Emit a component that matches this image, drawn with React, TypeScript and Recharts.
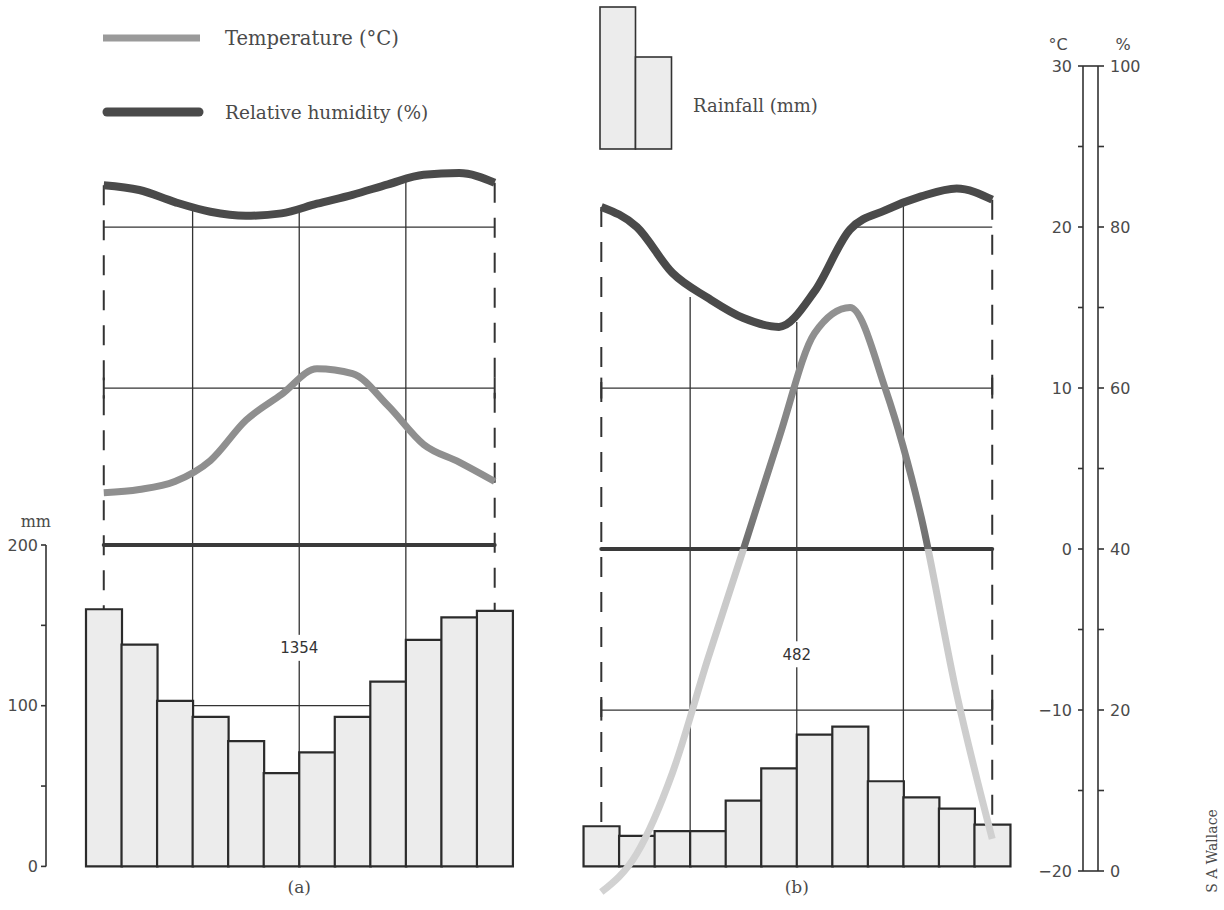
import React from 'react';
import { ComposedChart, Bar, Line, XAxis, YAxis, ReferenceLine, ReferenceDot, Legend } from 'recharts';

// ---------------- data ----------------
// panel (a)
const rainA = [160, 138, 103, 93, 78, 58, 71, 93, 115, 141, 155, 159];
const humA = [85.2, 84.6, 83.1, 81.9, 81.4, 81.7, 82.9, 84.0, 85.3, 86.5, 86.7, 85.5];
const tempA = [3.5, 3.7, 4.2, 5.5, 8.0, 9.6, 11.2, 10.9, 8.9, 6.5, 5.4, 4.2];
// panel (b)
const rainB = [25, 19, 22, 22, 41, 61, 82, 87, 53, 43, 36, 26];
const humB = [82.5, 80.0, 74.3, 71.2, 68.7, 67.6, 72.0, 79.7, 82.1, 83.8, 84.8, 83.4];
const tempB = [-21.3, -18.9, -13.9, -6.8, 0.0, 6.9, 13.4, 15.0, 9.9, 2.0, -9.0, -18.0];

const totals = ['1354', '482'];
const panelNames = ['(a)', '(b)'];
const quarterEnds = [3, 6, 9];
const gridTopsA = [82.1, 81.9, 85.8]; // humidity (%) where the quarter lines start
const gridTopsB = [71.3, 68.2, 82.7];

const tempTicks = [-20, -15, -10, -5, 0, 5, 10, 15, 20, 25, 30];
const humTicks = [0, 10, 20, 30, 40, 50, 60, 70, 80, 90, 100];
const rainTicks = [0, 50, 100, 150, 200];

// ---------------- layout / scales ----------------
const W = 1224;
const H = 910;
const N = 12;
const GAP = 2;
const OFF_B = N + GAP;
const SLOTS = N * 2 + GAP;

// all axes of the main chart share one pixel range; lower bounds leave room below -20 °C
const TEMP_DOMAIN: [number, number] = [-22.1, 30];
const HUM_DOMAIN: [number, number] = [-4.2, 100];
const RAIN_DOMAIN: [number, number] = [-24, 498];
const conv = (v: number, from: number[], to: number[]) =>
  to[0] + ((v - from[0]) / (from[1] - from[0])) * (to[1] - to[0]);
const humToRain = (h: number) => conv(h, HUM_DOMAIN, RAIN_DOMAIN);

const rows = [
  ...rainA.map((r, i) => ({ key: `a${i + 1}`, pos: i + 0.5, rain: r, humA: humA[i], tempA: tempA[i] })),
  ...Array.from({ length: GAP }, (_, i) => ({ key: `gap${i + 1}`, pos: N + i + 0.5 })),
  ...rainB.map((r, i) => ({ key: `b${i + 1}`, pos: OFF_B + i + 0.5, rain: r, humB: humB[i], tempB: tempB[i] })),
];

const tMax = Math.max(...tempB);
const tMin = Math.min(...tempB);
const zeroOff = tMax / (tMax - tMin);

const INK = '#333';
const TEXT = '#4a4a4a';
const HUM_COLOR = '#4a4a4a';
const TEMP_COLOR = '#8f8f8f';
const BAR_FILL = '#ececec';
const SERIF = 'DejaVu Serif';
const SANS = 'DejaVu Sans';
const DASH = '20 15';

const LegendArt = () => (
  <svg width={900} height={160} style={{ display: 'block' }}>
    <line x1={103} x2={200} y1={38} y2={38} stroke="#9a9a9a" strokeWidth={7} />
    <text x={225} y={45} fontFamily={SERIF} fontSize={19.5} fill={TEXT}>Temperature (°C)</text>
    <line x1={107} x2={199} y1={112} y2={112} stroke={HUM_COLOR} strokeWidth={9} strokeLinecap="round" />
    <text x={225} y={119} fontFamily={SERIF} fontSize={18.5} fill={TEXT}>Relative humidity (%)</text>
    <rect x={600} y={7} width={35.5} height={142} fill={BAR_FILL} stroke={INK} strokeWidth={1.6} />
    <rect x={635.5} y={57} width={36} height={92} fill={BAR_FILL} stroke={INK} strokeWidth={1.6} />
    <text x={693} y={112} fontFamily={SERIF} fontSize={18} fill={TEXT}>Rainfall (mm)</text>
  </svg>
);

const TotalTag = (props: any) => (
  <g>
    <rect x={props.cx - 22} y={props.cy - 13} width={44} height={26} fill="#fff" />
    <text x={props.cx} y={props.cy} dy="0.36em" textAnchor="middle" fontFamily={SANS} fontSize={15} fill={INK}>
      {props.text}
    </text>
  </g>
);

const thin = { stroke: INK, strokeWidth: 1.3 };

function panelRefs(off: number, hum: number[], gridTops: number[], humLineFrom: number, lowerOnRain: boolean, thickOnRain: boolean) {
  const c0 = off + 0.5;
  const c11 = off + N - 0.5;
  const els: any[] = [];
  // dashed month-end verticals
  [
    [c0, hum[0]],
    [c11, hum[N - 1]],
  ].forEach(([x, h], i) =>
    els.push(
      <ReferenceLine key={`d${off}-${i}`} xAxisId="pos" yAxisId="r" zIndex={100}
        segment={[{ x, y: humToRain(h) }, { x, y: 0 }]} stroke={INK} strokeWidth={2} strokeDasharray={DASH} />
    )
  );
  // quarter verticals
  quarterEnds.forEach((q, k) =>
    els.push(
      <ReferenceLine key={`q${off}-${k}`} xAxisId="pos" yAxisId="r" zIndex={100}
        segment={[{ x: off + q, y: humToRain(gridTops[k]) }, { x: off + q, y: 0 }]} {...thin} />
    )
  );
  // 80 % line
  els.push(
    <ReferenceLine key={`h80${off}`} xAxisId="pos" yAxisId="h" zIndex={100}
      segment={[{ x: off + humLineFrom + 0.5, y: 80 }, { x: c11, y: 80 }]} {...thin} />
  );
  // 10 °C line with end ticks
  els.push(
    <ReferenceLine key={`t10${off}`} xAxisId="pos" yAxisId="t" zIndex={100}
      segment={[{ x: c0, y: 10 }, { x: c11, y: 10 }]} {...thin} />
  );
  const endTicks = (yv: number, k: string) =>
    [c0, c11].forEach((x, i) =>
      els.push(
        <ReferenceLine key={`et${off}-${k}-${i}`} xAxisId="pos" yAxisId="t" zIndex={100}
          segment={[{ x, y: yv - 0.65 }, { x, y: yv + 0.65 }]} stroke={INK} strokeWidth={2} />
      )
    );
  endTicks(10, 'ten');
  // lower line (100 mm / -10 °C)
  if (lowerOnRain) {
    els.push(
      <ReferenceLine key={`low${off}`} xAxisId="pos" yAxisId="r" zIndex={100}
        segment={[{ x: c0, y: 100 }, { x: c11, y: 100 }]} {...thin} />
    );
  } else {
    els.push(
      <ReferenceLine key={`low${off}`} xAxisId="pos" yAxisId="t" zIndex={100}
        segment={[{ x: c0, y: -10 }, { x: c11, y: -10 }]} {...thin} />
    );
    endTicks(-10, 'mten');
  }
  // thick zero line
  els.push(
    thickOnRain ? (
      <ReferenceLine key={`zero${off}`} xAxisId="pos" yAxisId="r" zIndex={350}
        segment={[{ x: c0, y: 200 }, { x: c11, y: 200 }]} stroke="#3a3a3a" strokeWidth={4} strokeLinecap="round" />
    ) : (
      <ReferenceLine key={`zero${off}`} xAxisId="pos" yAxisId="t" zIndex={350}
        segment={[{ x: c0, y: 0 }, { x: c11, y: 0 }]} stroke="#3a3a3a" strokeWidth={4} strokeLinecap="round" />
    )
  );
  return els;
}

const AxisNum = (props: any) => {
  const { x, y, payload, textAnchor, step } = props;
  if (payload.value % step !== 0) return <g />;
  const label = payload.value < 0 ? `\u2212${Math.abs(payload.value)}` : `${payload.value}`;
  return (
    <text x={x} y={y} dy="0.36em" textAnchor={textAnchor} fontFamily={SANS} fontSize={16} fill={TEXT}>
      {label}
    </text>
  );
};

const MmLabel = (props: any) => {
  const vb = props.viewBox || {};
  return (
    <text x={vb.x + vb.width + 5} y={vb.y - 18} textAnchor="end" fontFamily={SERIF} fontSize={16} fill={TEXT}>
      mm
    </text>
  );
};

export default function App() {
  const axisStyle = { stroke: INK, strokeWidth: 1.6 };
  return (
    <div style={{ position: 'absolute', left: 0, top: 0, width: W, height: H, background: '#fff', overflow: 'hidden' }}>
      {/* main chart */}
      <div style={{ position: 'absolute', left: 0, top: 0 }}>
        <ComposedChart width={W} height={H} data={rows} margin={{ top: 66, right: 214, bottom: 5, left: 86 }}
          barCategoryGap={0} barGap={0}>
          <defs>
            <linearGradient id="tempBGrad" x1="0" y1="0" x2="0" y2="1">
              <stop offset={0} stopColor="#929292" />
              <stop offset={zeroOff * 0.85} stopColor="#7c7c7c" />
              <stop offset={zeroOff} stopColor="#6c6c6c" />
              <stop offset={zeroOff} stopColor="#c8c8c8" />
              <stop offset={1} stopColor="#d2d2d2" />
            </linearGradient>
          </defs>
          <XAxis xAxisId="cat" dataKey="key" type="category" hide />
          <XAxis xAxisId="pos" dataKey="pos" type="number" domain={[0, SLOTS]} ticks={[6, OFF_B + 6]} interval={0}
            mirror axisLine={false} tickLine={false} tickSize={0} tickMargin={12}
            tickFormatter={(v: number) => (v < N ? panelNames[0] : panelNames[1])}
            tick={{ fontFamily: SERIF, fontSize: 17, fill: TEXT }} />
          <YAxis yAxisId="r" domain={RAIN_DOMAIN} hide allowDataOverflow />
          <YAxis yAxisId="t" domain={TEMP_DOMAIN} hide allowDataOverflow />
          <YAxis yAxisId="h" domain={HUM_DOMAIN} hide allowDataOverflow />
          <Legend verticalAlign="middle" align="center" layout="horizontal"
            wrapperStyle={{ left: 0, top: 0, width: 900, height: 160 }} content={() => <LegendArt />} />

          {panelRefs(0, humA, gridTopsA, 0, true, true)}
          {panelRefs(OFF_B, humB, gridTopsB, 7, false, false)}

          <Bar xAxisId="cat" yAxisId="r" dataKey="rain" fill={BAR_FILL} stroke="#2b2b2b" strokeWidth={2.2}
            isAnimationActive={false} zIndex={300} />

          <ReferenceDot xAxisId="pos" yAxisId="r" x={6} y={136} r={0} zIndex={500}
            shape={(p: any) => <TotalTag cx={p.cx} cy={p.cy} text={totals[0]} />} />
          <ReferenceDot xAxisId="pos" yAxisId="r" x={OFF_B + 6} y={132} r={0} zIndex={500}
            shape={(p: any) => <TotalTag cx={p.cx} cy={p.cy} text={totals[1]} />} />

          <Line xAxisId="cat" yAxisId="t" dataKey="tempA" type="monotone" stroke={TEMP_COLOR} strokeWidth={7}
            dot={false} activeDot={false} isAnimationActive={false} zIndex={400} />
          <Line xAxisId="cat" yAxisId="t" dataKey="tempB" type="monotone" stroke="url(#tempBGrad)" strokeWidth={7}
            dot={false} activeDot={false} isAnimationActive={false} zIndex={400} />
          <Line xAxisId="cat" yAxisId="h" dataKey="humA" type="monotone" stroke={HUM_COLOR} strokeWidth={8}
            dot={false} activeDot={false} isAnimationActive={false} zIndex={410} />
          <Line xAxisId="cat" yAxisId="h" dataKey="humB" type="monotone" stroke={HUM_COLOR} strokeWidth={8}
            dot={false} activeDot={false} isAnimationActive={false} zIndex={410} />
        </ComposedChart>
      </div>

      {/* rainfall axis (mm) */}
      <div style={{ position: 'absolute', left: 0, top: 0 }}>
        <ComposedChart width={120} height={H} data={rows} margin={{ top: 545, right: 20, bottom: 43.6, left: 0 }}>
          <XAxis dataKey="key" hide />
          <YAxis yAxisId="r" width={46} domain={[0, 200]} allowDataOverflow ticks={rainTicks} interval={0}
            tickSize={5} tickMargin={3}
            axisLine={axisStyle} tickLine={axisStyle} tick={<AxisNum step={100} />} label={<MmLabel />} />
          <Line yAxisId="r" dataKey="rain" stroke="none" strokeWidth={0} dot={false} activeDot={false}
            isAnimationActive={false} />
        </ComposedChart>
      </div>

      {/* °C and % axes */}
      <div style={{ position: 'absolute', left: 0, top: 0 }}>
        <ComposedChart width={W} height={H} data={rows} margin={{ top: 66, right: 76, bottom: 39, left: 1033 }}>
          <XAxis dataKey="key" hide />
          <YAxis yAxisId="t" orientation="left" width={50} domain={[-20, 30]} allowDataOverflow ticks={tempTicks}
            interval={0} tickSize={5} tickMargin={6} axisLine={axisStyle} tickLine={axisStyle}
            tick={<AxisNum step={10} />}
            label={{ value: '°C', position: 'top', offset: 16, fontFamily: SANS, fontSize: 16, fill: TEXT }} />
          <YAxis yAxisId="h" orientation="right" width={50} domain={[0, 100]} allowDataOverflow ticks={humTicks}
            interval={0} tickSize={6} tickMargin={6} axisLine={axisStyle} tickLine={axisStyle}
            tick={<AxisNum step={20} />}
            label={{ value: '%', position: 'top', offset: 16, fontFamily: SANS, fontSize: 16, fill: TEXT }} />
          <Line yAxisId="t" dataKey="tempA" stroke="none" strokeWidth={0} dot={false} activeDot={false}
            isAnimationActive={false} />
          <Line yAxisId="h" dataKey="humA" stroke="none" strokeWidth={0} dot={false} activeDot={false}
            isAnimationActive={false} />
          <ReferenceLine yAxisId="t" y={30} stroke={INK} strokeWidth={1.6} />
          <ReferenceLine yAxisId="t" y={-20} stroke={INK} strokeWidth={1.6} />
        </ComposedChart>
      </div>

      <svg width={30} height={100} style={{ position: 'absolute', left: 1196, top: 800 }}>
        <text transform="translate(21,51) rotate(-90)" textAnchor="middle" fontFamily={SERIF} fontSize={14} fill={TEXT}>
          S A Wallace
        </text>
      </svg>
    </div>
  );
}
